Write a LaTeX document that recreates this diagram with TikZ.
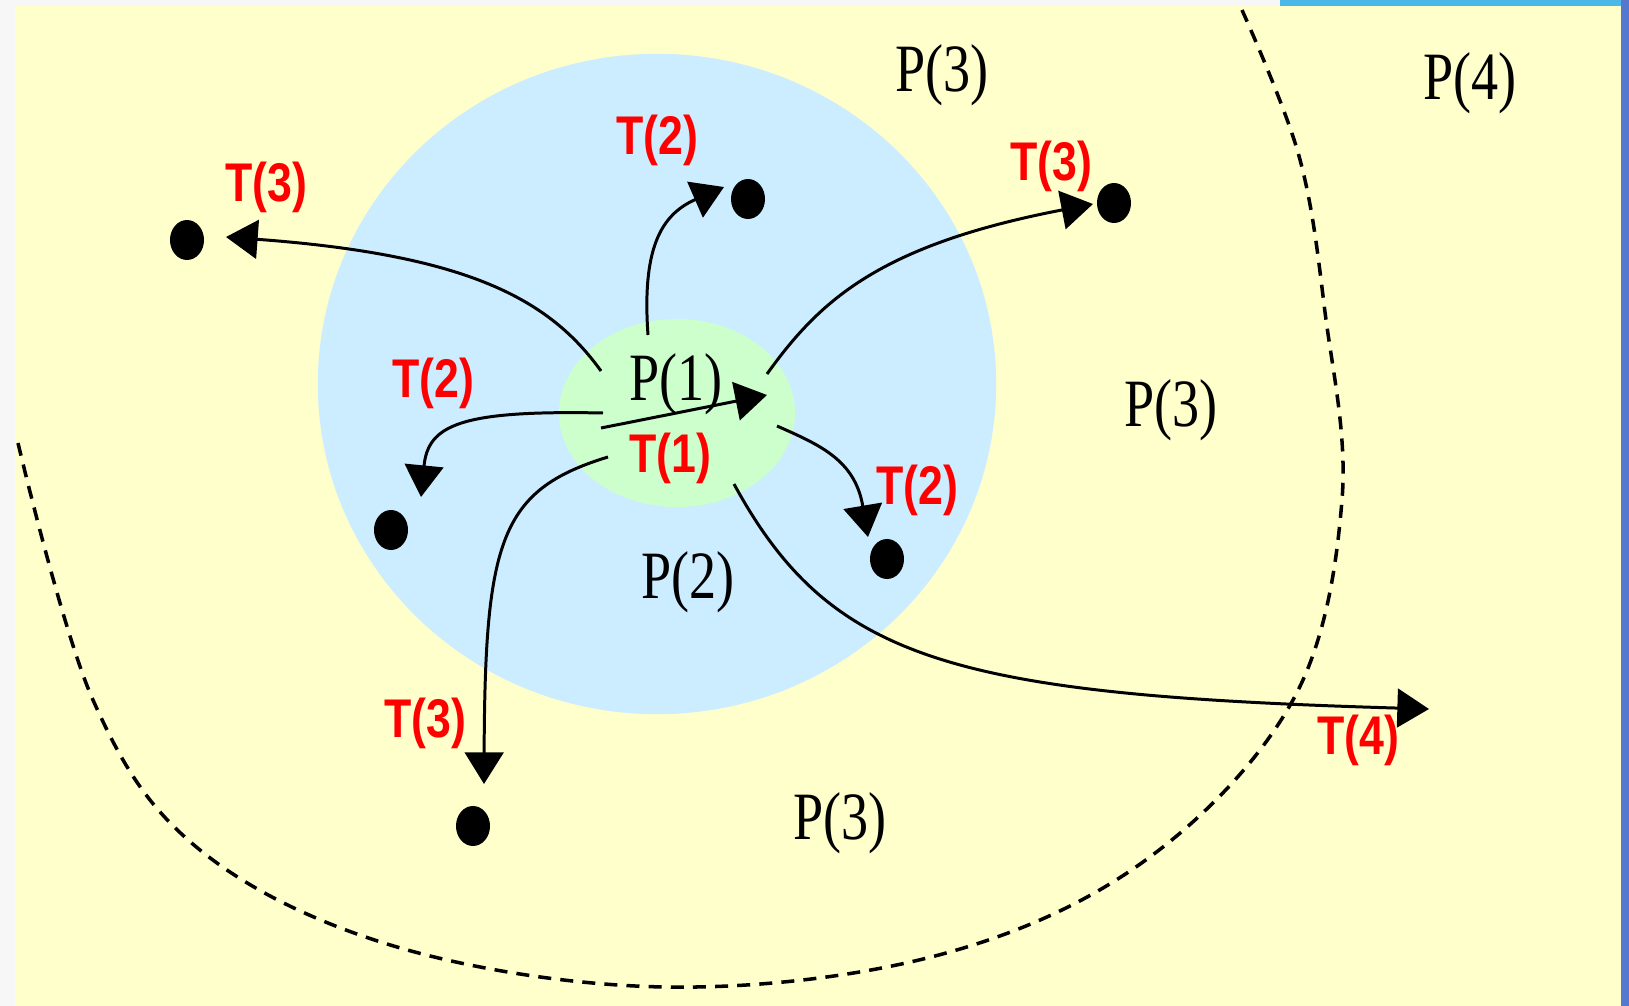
\documentclass[tikz,border=0pt]{standalone}
\usepackage{fontspec}
\usepackage{graphicx}
\setmainfont{Liberation Serif}
\newfontfamily\tfont{Liberation Sans}
\usetikzlibrary{arrows.meta, shapes.geometric, positioning}
\definecolor{slidegray}{HTML}{F7F7F8}
\definecolor{zoneyellow}{HTML}{FFFFCC}
\definecolor{zoneblue}{HTML}{CCECFF}
\definecolor{zonegreen}{HTML}{CCFFCC}
\definecolor{barblue}{HTML}{4BB8E8}
\definecolor{edgeblue}{HTML}{5478D0}
\newcommand{\plabel}[1]{\scalebox{1}[1.25]{\fontsize{15.4}{18}\selectfont #1}}
\newcommand{\tlabel}[1]{\scalebox{1}[1.22]{\tfont\bfseries\fontsize{12.7}{15}\selectfont #1}}
\tikzset{hop/.style={-{Triangle[length=9pt, width=11pt]}, line width=0.85pt}}
\tikzset{dot/.style={ellipse, fill=black, inner sep=0pt, minimum width=0.34cm, minimum height=0.40cm}}
\tikzset{zone/.style={ellipse, inner sep=0pt}}
\tikzset{plab/.style={inner sep=0pt, text=black}}
\tikzset{tlab/.style={inner sep=0pt, text=red}}
\tikzset{border/.style={dash pattern=on 3.7pt off 2.6pt, line width=1pt}}

\begin{document}
\begin{tikzpicture}[x=0.01cm, y=-0.01cm]
    \useasboundingbox (0,0) rectangle (1629,1006);
    % slide background
    \fill[slidegray] (0,0) rectangle (1629,1006);
    \fill[barblue] (1280,0) rectangle (1629,6);
    \fill[edgeblue] (1621,0) rectangle (1629,1006);
    \fill[zoneyellow] (15,6) rectangle (1621,1006);

    % zones
    \node[zone, fill=zoneblue, minimum width=6.78cm, minimum height=6.60cm] (Z2) at (657,384) {};
    \node[zone, fill=zonegreen, minimum width=2.36cm, minimum height=1.88cm] (Z1) at (677,413) {};

    % outer boundary
    \draw[border] plot[smooth, tension=0.6] coordinates {(18,443) (93,700) (200,850) (397,947) (665,987)
        (935,956) (1143,862) (1293,700) (1342,500) (1325,312) (1299,156) (1242,10)};

    % region labels
    \node[plab] (P3a) at (942,75) {\plabel{P(3)}};
    \node[plab] (P4) at (1470,83) {\plabel{P(4)}};
    \node[plab] (P3b) at (1171,410) {\plabel{P(3)}};
    \node[plab] (P1) at (676,384) {\plabel{P(1)}};
    \node[plab] (P2) at (688,582) {\plabel{P(2)}};
    \node[plab] (P3c) at (840,823) {\plabel{P(3)}};

    % destinations
    \node[dot] (D1) at (187,240) {};
    \node[dot] (D2) at (748,199) {};
    \node[dot] (D3) at (1114,203) {};
    \node[dot] (D4) at (391,530) {};
    \node[dot] (D5) at (887,559) {};
    \node[dot] (D6) at (473,826) {};

    % arrow ends
    \coordinate (S1) at (601,371);  \coordinate (E1) at (226,237);
    \coordinate (S2) at (648,335);  \coordinate (E2) at (724,187);
    \coordinate (S3) at (767,374);  \coordinate (E3) at (1093,204);
    \coordinate (S4) at (603,413);  \coordinate (E4) at (421,497);
    \coordinate (S5) at (601,428);  \coordinate (E5) at (767,395);
    \coordinate (S6) at (777,426);  \coordinate (E6) at (868,537);
    \coordinate (S7) at (608,457);  \coordinate (E7) at (484,784);
    \coordinate (S8) at (734,484);  \coordinate (E8) at (1429,709);

    \draw[hop] (S1) .. controls (550,300) and (470,255) .. (E1);
    \draw[hop] (S2) .. controls (642,250) and (660,215) .. (E2);
    \draw[hop] (S3) .. controls (820,300) and (880,245) .. (E3);
    \draw[hop] (S4) .. controls (460,410) and (428,425) .. (E4);
    \draw[hop] (S5) -- (E5);
    \draw[hop] (S6) .. controls (820,445) and (855,460) .. (E6);
    \draw[hop] (S7) .. controls (500,490) and (485,540) .. (E7);
    \draw[hop] (S8) .. controls (830,660) and (950,695) .. (E8);

    % hop labels
    \node[tlab] (T3a) at (266,187) {\tlabel{T(3)}};
    \node[tlab] (T2a) at (657,140) {\tlabel{T(2)}};
    \node[tlab] (T3b) at (1051,166) {\tlabel{T(3)}};
    \node[tlab] (T2b) at (433,383) {\tlabel{T(2)}};
    \node[tlab] (T1) at (670,458) {\tlabel{T(1)}};
    \node[tlab] (T2c) at (917,490) {\tlabel{T(2)}};
    \node[tlab] (T3c) at (425,723) {\tlabel{T(3)}};
    \node[tlab] (T4) at (1358,740) {\tlabel{T(4)}};
\end{tikzpicture}
\end{document}
